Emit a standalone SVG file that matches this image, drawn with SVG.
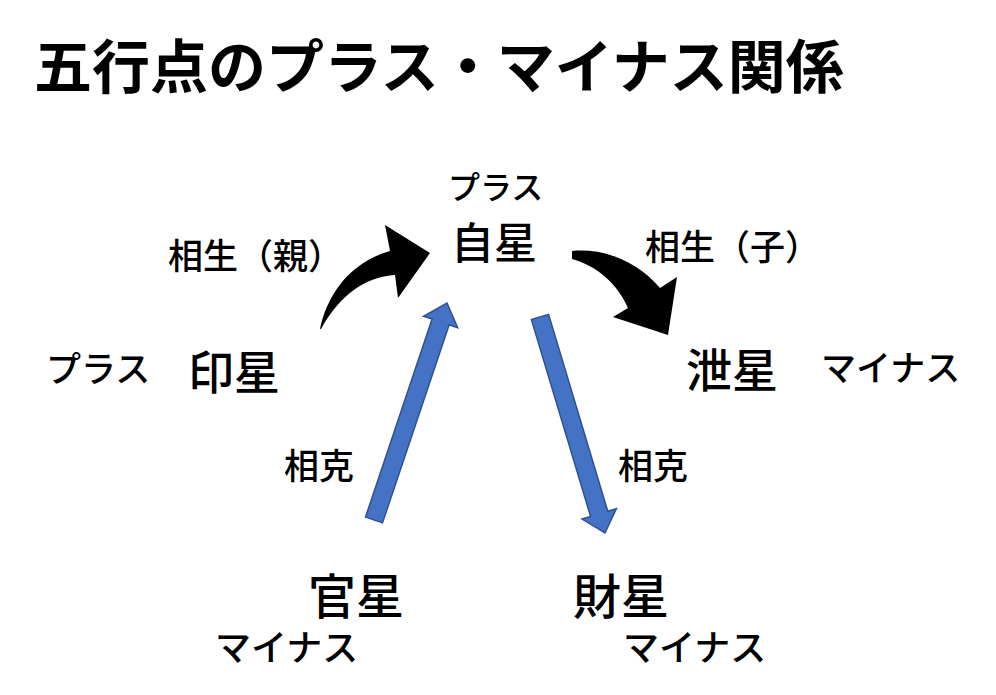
<svg xmlns="http://www.w3.org/2000/svg" width="996" height="695" viewBox="0 0 996 695">
<style>
text{font-family:"Noto Sans CJK JP","Noto Sans CJK SC",sans-serif;fill:#000}
.title{font-size:58px;font-weight:700}
.star{font-size:46px;font-weight:500}
.lbl{font-size:35px;font-weight:500}
.curve{fill:#000;stroke:none}
.blue{fill:#4472C4;stroke:#2F528F;stroke-width:1.5;stroke-linejoin:miter}
</style>
<rect width="996" height="695" fill="#fff"/>
<text id="title" class="title" x="34" y="88">五行点のプラス・マイナス関係</text>
<g id="connectors">
<path class="curve" d="M320,329 C327,295 350,262 390,251 L385,225 L430,253 L398,298 L395,275 C365,277 340,295 321,329 Z"/>
<path class="curve" d="M572,251 C605,248 638,262 660,288 L677,277 L668,335 L613,317 L628,308 C618,285 598,266 572,259 Z"/>
<polygon class="blue" points="365.5,517.1 432.1,319.1 423.5,316.3 447,303 457.7,327.7 449.1,324.9 382.5,522.9"/>
<polygon class="blue" points="531.4,319.6 590.6,516.5 582,519.1 605,533 616.4,508.7 607.8,511.3 548.6,314.4"/>
<text class="lbl" x="168" y="269">相生（親）</text>
<text class="lbl" x="645" y="260">相生（子）</text>
<text class="lbl" x="284" y="479">相克</text>
<text class="lbl" x="618" y="479">相克</text>
</g>
<g id="jisei">
<text class="lbl" x="448" y="199" style="font-size:32px">プラス</text>
<text class="star" x="451" y="259" style="font-size:43px">自星</text>
</g>
<g id="insei">
<text class="lbl" x="46" y="382">プラス</text>
<text class="star" x="188" y="389">印星</text>
</g>
<g id="setsusei">
<text class="star" x="686" y="387">泄星</text>
<text class="lbl" x="821" y="381">マイナス</text>
</g>
<g id="kansei">
<text class="star" x="308" y="614" style="font-size:48px">官星</text>
<text class="lbl" x="215" y="661" style="font-size:36px">マイナス</text>
</g>
<g id="zaisei">
<text class="star" x="573" y="614" style="font-size:48px">財星</text>
<text class="lbl" x="623" y="661" style="font-size:36px">マイナス</text>
</g>
</svg>
